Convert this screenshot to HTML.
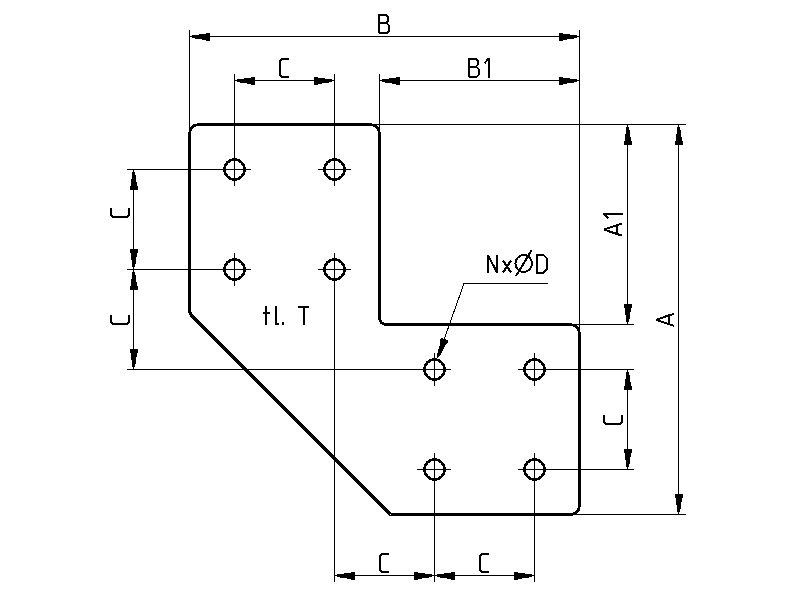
<!DOCTYPE html>
<html><head><meta charset="utf-8"><style>
html,body{margin:0;padding:0;background:#fff;width:800px;height:600px;overflow:hidden}
svg{display:block} svg *{shape-rendering:crispEdges}
.thin line{stroke:#000;stroke-width:1}
.a{fill:#000;stroke:none}
.g{fill:none;stroke:#000;stroke-width:2;stroke-linejoin:miter;stroke-miterlimit:2.5;stroke-linecap:butt}
</style></head><body>
<svg width="800" height="600" viewBox="0 0 800 600">
<rect width="800" height="600" fill="#fff"/>
<g class="thin" shape-rendering="crispEdges">
<line x1="189.5" y1="30" x2="189.5" y2="132"/>
<line x1="579.5" y1="30" x2="579.5" y2="332"/>
<line x1="234.5" y1="74" x2="234.5" y2="186"/>
<line x1="334.5" y1="74" x2="334.5" y2="186"/>
<line x1="379.5" y1="74" x2="379.5" y2="131"/>
<line x1="334.5" y1="253" x2="334.5" y2="582"/>
<line x1="234.5" y1="253" x2="234.5" y2="286"/>
<line x1="434.5" y1="353" x2="434.5" y2="386"/>
<line x1="434.5" y1="453" x2="434.5" y2="582"/>
<line x1="534.5" y1="353" x2="534.5" y2="386"/>
<line x1="534.5" y1="453" x2="534.5" y2="582"/>
<line x1="372" y1="124.5" x2="686" y2="124.5"/>
<line x1="572" y1="324.5" x2="633.5" y2="324.5"/>
<line x1="127" y1="369.5" x2="451" y2="369.5"/>
<line x1="518" y1="369.5" x2="633.5" y2="369.5"/>
<line x1="417" y1="469.5" x2="451" y2="469.5"/>
<line x1="518" y1="469.5" x2="633.5" y2="469.5"/>
<line x1="572.5" y1="514.5" x2="686" y2="514.5"/>
<line x1="127" y1="169.5" x2="251" y2="169.5"/>
<line x1="318" y1="169.5" x2="351" y2="169.5"/>
<line x1="127" y1="269.5" x2="251" y2="269.5"/>
<line x1="318" y1="269.5" x2="351" y2="269.5"/>
<line x1="189.5" y1="36.5" x2="579.5" y2="36.5"/>
<line x1="234.5" y1="80.5" x2="334.5" y2="80.5"/>
<line x1="379.5" y1="80.5" x2="579.5" y2="80.5"/>
<line x1="133.5" y1="169.5" x2="133.5" y2="369.5"/>
<line x1="627.5" y1="124.5" x2="627.5" y2="324.5"/>
<line x1="627.5" y1="369.5" x2="627.5" y2="469.5"/>
<line x1="678.5" y1="124.5" x2="678.5" y2="514.5"/>
<line x1="334.5" y1="575.5" x2="534.5" y2="575.5"/>
<line x1="464" y1="283.5" x2="548" y2="283.5"/>
<line x1="464" y1="283.5" x2="440" y2="351"/>
</g>
<path d="M197,124.5 H371.5 M379.5,132 V318 M385.5,324.5 H571.5 M579.5,332 V507 M572.5,514.5 H390.5 L191.5,315.5 L189.5,311.5 V132" fill="none" stroke="#000" stroke-width="3" stroke-linejoin="miter"/>
<path d="M189.8,132.5 A7.7,7.7 0 0 1 197.5,124.8 M371.5,124.8 A7.7,7.7 0 0 1 379.2,132.5 M379.5,317.5 A6.5,6.5 0 0 0 386,324.5 M571.5,324.8 A7.7,7.7 0 0 1 579.2,332.5 M579.2,506.5 A7.7,7.7 0 0 1 571.5,514.2" fill="none" stroke="#000" stroke-width="2.8"/>
<g fill="none" stroke="#000" stroke-width="2.6"><circle cx="234.5" cy="169.5" r="10"/><circle cx="334.5" cy="169.5" r="10"/><circle cx="234.5" cy="269.5" r="10"/><circle cx="334.5" cy="269.5" r="10"/><circle cx="434.5" cy="369.5" r="10"/><circle cx="534.5" cy="369.5" r="10"/><circle cx="434.5" cy="469.5" r="10"/><circle cx="534.5" cy="469.5" r="10"/></g>
<g><polygon class="a" points="189.50,37.00 191.80,37.00 191.80,38.00 205.80,40.00 206.00,41.00 209.70,41.00 209.70,33.00 206.00,33.00 205.80,34.00 191.80,35.00 191.80,36.00 189.50,36.00"/>
<polygon class="a" points="579.50,37.00 577.20,37.00 577.20,38.00 563.20,40.00 563.00,41.00 559.30,41.00 559.30,33.00 563.00,33.00 563.20,34.00 577.20,35.00 577.20,36.00 579.50,36.00"/>
<polygon class="a" points="234.50,81.00 236.80,81.00 236.80,82.00 250.80,84.00 251.00,85.00 254.70,85.00 254.70,77.00 251.00,77.00 250.80,78.00 236.80,79.00 236.80,80.00 234.50,80.00"/>
<polygon class="a" points="334.50,81.00 332.20,81.00 332.20,82.00 318.20,84.00 318.00,85.00 314.30,85.00 314.30,77.00 318.00,77.00 318.20,78.00 332.20,79.00 332.20,80.00 334.50,80.00"/>
<polygon class="a" points="379.50,81.00 381.80,81.00 381.80,82.00 395.80,84.00 396.00,85.00 399.70,85.00 399.70,77.00 396.00,77.00 395.80,78.00 381.80,79.00 381.80,80.00 379.50,80.00"/>
<polygon class="a" points="579.50,81.00 577.20,81.00 577.20,82.00 563.20,84.00 563.00,85.00 559.30,85.00 559.30,77.00 563.00,77.00 563.20,78.00 577.20,79.00 577.20,80.00 579.50,80.00"/>
<polygon class="a" points="134.00,169.50 134.00,171.80 135.00,171.80 137.00,185.80 138.00,186.00 138.00,189.70 130.00,189.70 130.00,186.00 131.00,185.80 132.00,171.80 133.00,171.80 133.00,169.50"/>
<polygon class="a" points="134.00,269.50 134.00,267.20 135.00,267.20 137.00,253.20 138.00,253.00 138.00,249.30 130.00,249.30 130.00,253.00 131.00,253.20 132.00,267.20 133.00,267.20 133.00,269.50"/>
<polygon class="a" points="134.00,269.50 134.00,271.80 135.00,271.80 137.00,285.80 138.00,286.00 138.00,289.70 130.00,289.70 130.00,286.00 131.00,285.80 132.00,271.80 133.00,271.80 133.00,269.50"/>
<polygon class="a" points="134.00,369.50 134.00,367.20 135.00,367.20 137.00,353.20 138.00,353.00 138.00,349.30 130.00,349.30 130.00,353.00 131.00,353.20 132.00,367.20 133.00,367.20 133.00,369.50"/>
<polygon class="a" points="628.00,124.50 628.00,126.80 629.00,126.80 631.00,140.80 632.00,141.00 632.00,144.70 624.00,144.70 624.00,141.00 625.00,140.80 626.00,126.80 627.00,126.80 627.00,124.50"/>
<polygon class="a" points="628.00,324.50 628.00,322.20 629.00,322.20 631.00,308.20 632.00,308.00 632.00,304.30 624.00,304.30 624.00,308.00 625.00,308.20 626.00,322.20 627.00,322.20 627.00,324.50"/>
<polygon class="a" points="628.00,369.50 628.00,371.80 629.00,371.80 631.00,385.80 632.00,386.00 632.00,389.70 624.00,389.70 624.00,386.00 625.00,385.80 626.00,371.80 627.00,371.80 627.00,369.50"/>
<polygon class="a" points="628.00,469.50 628.00,467.20 629.00,467.20 631.00,453.20 632.00,453.00 632.00,449.30 624.00,449.30 624.00,453.00 625.00,453.20 626.00,467.20 627.00,467.20 627.00,469.50"/>
<polygon class="a" points="679.00,124.50 679.00,126.80 680.00,126.80 682.00,140.80 683.00,141.00 683.00,144.70 675.00,144.70 675.00,141.00 676.00,140.80 677.00,126.80 678.00,126.80 678.00,124.50"/>
<polygon class="a" points="679.00,514.50 679.00,512.20 680.00,512.20 682.00,498.20 683.00,498.00 683.00,494.30 675.00,494.30 675.00,498.00 676.00,498.20 677.00,512.20 678.00,512.20 678.00,514.50"/>
<polygon class="a" points="334.50,576.00 336.80,576.00 336.80,577.00 350.80,579.00 351.00,580.00 354.70,580.00 354.70,572.00 351.00,572.00 350.80,573.00 336.80,574.00 336.80,575.00 334.50,575.00"/>
<polygon class="a" points="434.50,576.00 432.20,576.00 432.20,577.00 418.20,579.00 418.00,580.00 414.30,580.00 414.30,572.00 418.00,572.00 418.20,573.00 432.20,574.00 432.20,575.00 434.50,575.00"/>
<polygon class="a" points="434.50,576.00 436.80,576.00 436.80,577.00 450.80,579.00 451.00,580.00 454.70,580.00 454.70,572.00 451.00,572.00 450.80,573.00 436.80,574.00 436.80,575.00 434.50,575.00"/>
<polygon class="a" points="534.50,576.00 532.20,576.00 532.20,577.00 518.20,579.00 518.00,580.00 514.30,580.00 514.30,572.00 518.00,572.00 518.20,573.00 532.20,574.00 532.20,575.00 534.50,575.00"/>
<polygon class="a" points="437.97,358.17 438.74,356.00 439.68,356.34 446.26,343.82 447.27,343.96 448.51,340.48 440.97,337.80 439.73,341.28 440.61,341.80 436.86,355.33 437.80,355.67 437.03,357.83"/></g>
<g><path d="M0,18V0H7L9,2V5.5L7,7.5H0M7,7.5L10,10.5V15.5L7.5,18H0" transform="translate(379.1,15.1)" class="g"/>
<path d="M9,0H2L0,2V16L2,18H9" transform="translate(280,59)" class="g"/>
<path d="M0,18V0H7L9,2V5.5L7,7.5H0M7,7.5L10,10.5V15.5L7.5,18H0" transform="translate(469,59)" class="g"/>
<path d="M-4.3,4.3L-0.2,-0.4M0,-1.2V18.8" transform="translate(488.75,59)" class="g"/>
<path d="M9,0H2L0,2V16L2,18H9" transform="translate(111,217) rotate(-90)" class="g"/>
<path d="M9,0H2L0,2V16L2,18H9" transform="translate(111,324.2) rotate(-90)" class="g"/>
<path d="M9,0H2L0,2V16L2,18H9" transform="translate(604.3,424.1) rotate(-90)" class="g"/>
<path d="M0,18L1.5,13.2L6,0L10.5,13.2L12,18M1.5,13.2H10.5" transform="translate(604,235.6) rotate(-90)" class="g"/>
<path d="M-4.3,4.3L-0.2,-0.4M0,-1.2V18.8" transform="translate(604,214) rotate(-90)" class="g"/>
<path d="M0,18L1.5,13.2L6,0L10.5,13.2L12,18M1.5,13.2H10.5" transform="translate(656,325.8) rotate(-90)" class="g"/>
<path d="M9,0H2L0,2V16L2,18H9" transform="translate(380,554.3)" class="g"/>
<path d="M9,0H2L0,2V16L2,18H9" transform="translate(480,554.3)" class="g"/>
<path d="M0,17.5V0L9,17.5V0" transform="translate(488,255)" class="g"/>
<path d="M0,5.5L8,17.5M8,5.5L0,17.5" transform="translate(503,255)" class="g"/>
<path d="M0,0V17.5H6.5L9.5,14.5V3L6.5,0Z" transform="translate(537,255)" class="g"/>
<path d="M0,6.8H6.8M3,0V18.5" transform="translate(263.1,306.1)" class="g"/>
<path d="M0,0V17.6H3" transform="translate(276.2,306.1)" class="g"/>
<path d="M0,0H11M5.6,0V17.6" transform="translate(298,307)" class="g"/>
<rect x="282" y="321.6" width="2" height="3" fill="#000"/>
<ellipse cx="523.75" cy="263.5" rx="8.25" ry="8.5" class="g"/>
<line x1="516" y1="276" x2="531.5" y2="250.5" class="g"/>
</g>
</svg>
</body></html>
